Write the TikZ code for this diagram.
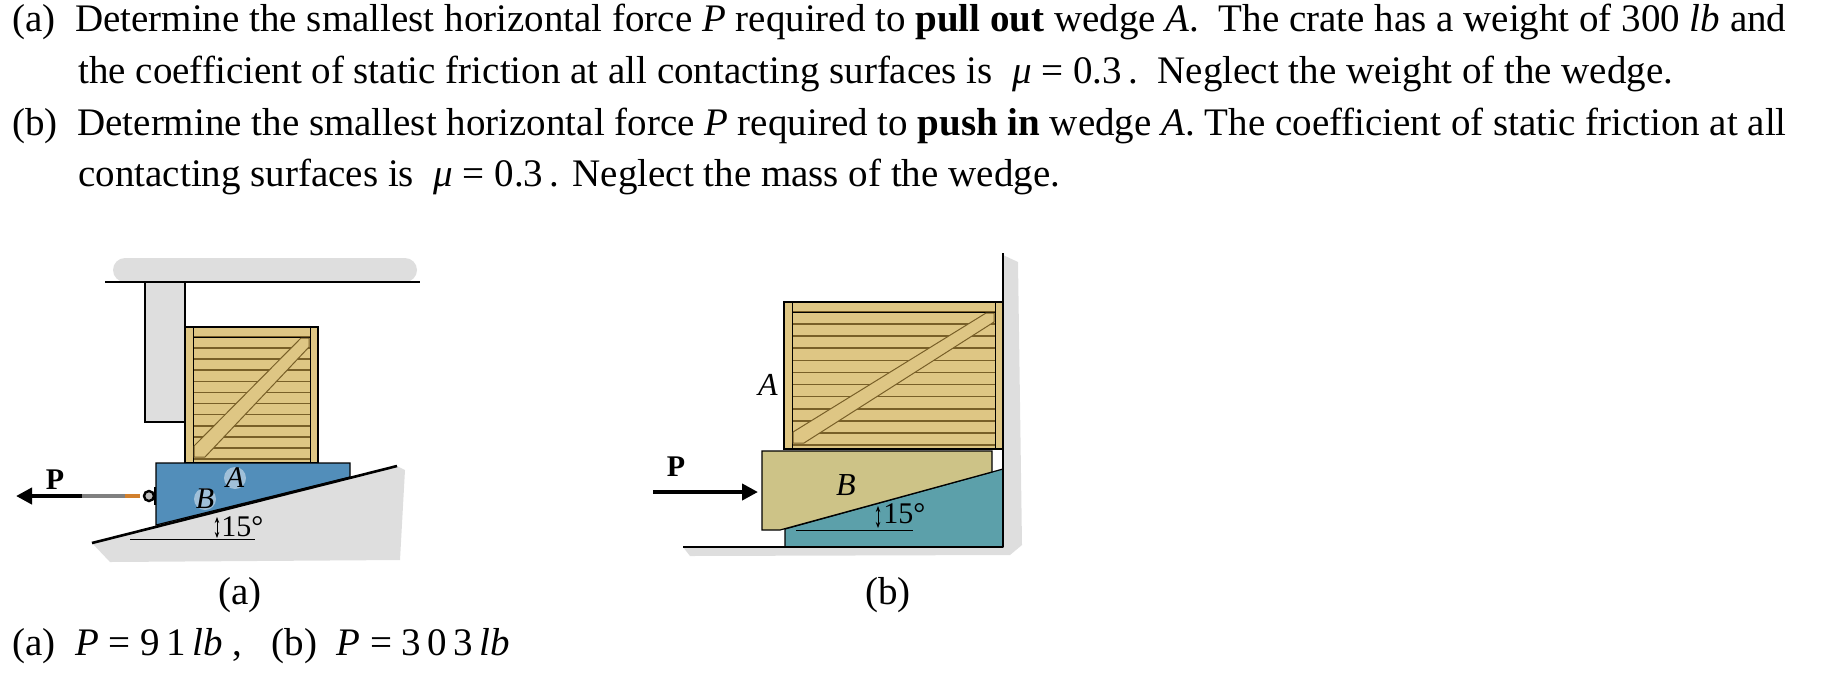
\documentclass[tikz,border=0pt]{standalone}
\usepackage{fontspec}
\setmainfont{Liberation Serif}
\usetikzlibrary{arrows.meta}
\definecolor{wood}{RGB}{222,198,132}
\definecolor{plank}{RGB}{120,95,40}
\definecolor{wedgeblue}{RGB}{82,142,186}
\definecolor{teal2}{RGB}{92,160,170}
\definecolor{khaki}{RGB}{205,195,135}
\definecolor{rock}{RGB}{222,222,222}
\tikzset{
  txt/.style={anchor=base west,inner sep=0pt,font=\fontsize{19.5}{23}\selectfont},
  lbl/.style={inner sep=0pt,font=\fontsize{15}{18}\selectfont},
  force/.style={line width=2.2pt,-{Triangle[length=8pt,width=8pt]}},
  edge/.style={line width=0.8pt},
}
\newcommand\mycrate[4]{% x1 y1 x2 y2
  \fill[wood,draw=black,line width=0.6pt] (#1,#2) rectangle (#3,#4);
  \foreach \yy in {0,...,11}{\draw[plank,line width=0.8pt] (#1+8,{#2+10+\yy*((#4)-(#2)-14)/11}) -- (#3-8,{#2+10+\yy*((#4)-(#2)-14)/11});}
  \draw[black,line width=0.5pt] (#1+8,#2) -- (#1+8,#4) (#3-8,#2) -- (#3-8,#4) (#1+8,#2+10) -- (#3-8,#2+10);
  \fill[wood,draw=plank,line width=0.5pt] (#1+9,#4-6) -- (#1+20,#4-6) -- (#3-9,#2+20) -- (#3-9,#2+11) -- (#3-17,#2+11) -- (#1+9,#4-17) -- cycle;
}
\begin{document}
\begin{tikzpicture}[x=0.5pt,y=-0.5pt]
\useasboundingbox (0,0) rectangle (1840,682);
% text
\node[txt] (t1) at (12,31) {(a)\ \ Determine the smallest horizontal force \textit{P} required to \textbf{pull out} wedge \textit{A}.\ \ The crate has a weight of 300 \textit{lb} and};
\node[txt] (t2) at (78,83) {the coefficient of static friction at all contacting surfaces is \ \textit{μ} = 0.3\,.\ \ Neglect the weight of the wedge.};
\node[txt] (t3) at (12,135) {(b)\ \ Determine the smallest horizontal force \textit{P} required to \textbf{push in} wedge \textit{A}. The coefficient of static friction at all};
\node[txt] (t4) at (78,186) {contacting surfaces is \ \textit{μ} = 0.3\,. Neglect the mass of the wedge.};
\node[txt] (ans) at (12,655) {(a)\ \ \textit{P}\ =\ 9\,1\,\textit{lb}\ ,\ \ \ (b)\ \ \textit{P}\ =\ 3\,0\,3\,\textit{lb}};
\node[txt,anchor=base] (ca) at (240,604) {(a)};
\node[txt,anchor=base] (cb) at (888,604) {(b)};
% ---------- figure (a)
\fill[rock,rounded corners=6pt] (113,258) rectangle (417,282);
\fill[rock] (92,543) -- (397,466) -- (405,470) -- (400,560) -- (110,562) -- cycle;
\draw[edge,line width=1.2pt] (105,282) -- (420,282);
\fill[rock,draw=black,line width=0.6pt] (145,282) rectangle (185,422);
\mycrate{185}{327}{318}{463}
\fill[wedgeblue,draw=black,line width=0.6pt] (156,463) -- (350,463) -- (350,477) -- (156,525) -- cycle;
\draw[line width=1.3pt] (92,543) -- (397,466);
\draw[line width=0.5pt] (130,539) -- (255,539);
\draw[line width=0.4pt,{Stealth[length=3pt]}-{Stealth[length=3pt]}] (217,517) -- (217,538);
\node[lbl,anchor=west] (d1) at (221,527) {15°};
\fill[white,opacity=0.45] (235,478) circle (11);
\fill[white,opacity=0.45] (205,499) circle (11);
\node[lbl,font=\fontsize{15}{18}\selectfont\itshape] (cA) at (235,478) {A};
\node[lbl,font=\fontsize{15}{18}\selectfont\itshape] (cB) at (205,499) {B};
\draw[line width=2pt,gray] (80,496) -- (125,496);
\draw[line width=2pt,brown!70!orange] (125,496) -- (140,496);
\draw[line width=1.2pt,fill=lightgray] (149,496) circle (5);
\draw[line width=1pt] (155,487) -- (155,505);
\coordinate (pa) at (82,496);
\coordinate (pe) at (16,496);
\draw[force] (pa) -- (pe);
\node[lbl,font=\fontsize{15}{18}\selectfont\bfseries] (P1) at (55,480) {P};
% ---------- figure (b)
\fill[rock] (1003,255) -- (1018,262) -- (1022,545) -- (1010,555) -- (690,556) -- (683,547) -- (1003,547) -- cycle;
\mycrate{784}{302}{1003}{449}
\fill[teal2,draw=black,line width=0.6pt] (785,547) -- (785,529) -- (1003,469) -- (1003,547) -- cycle;
\fill[khaki,draw=black,line width=0.6pt] (762,451) -- (992,451) -- (992,472) -- (780,530) -- (762,530) -- cycle;
\draw[line width=1.3pt] (1003,253) -- (1003,547);
\draw[line width=1.3pt] (683,547) -- (1003,547);
\draw[line width=0.5pt] (796,530) -- (913,530);
\draw[line width=0.4pt,{Stealth[length=3pt]}-{Stealth[length=3pt]}] (878,506) -- (878,528);
\node[lbl,anchor=west] (d2) at (883,514) {15°};
\node[lbl,font=\fontsize{16}{18}\selectfont\itshape] (lA) at (768,385) {A};
\node[lbl,font=\fontsize{16}{18}\selectfont\itshape] (lB) at (846,485) {B};
\coordinate (pb1) at (653,492);
\coordinate (pb2) at (758,492);
\draw[force] (pb1) -- (pb2);
\node[lbl,font=\fontsize{15}{18}\selectfont\bfseries] (P2) at (676,467) {P};
\end{tikzpicture}
\end{document}
